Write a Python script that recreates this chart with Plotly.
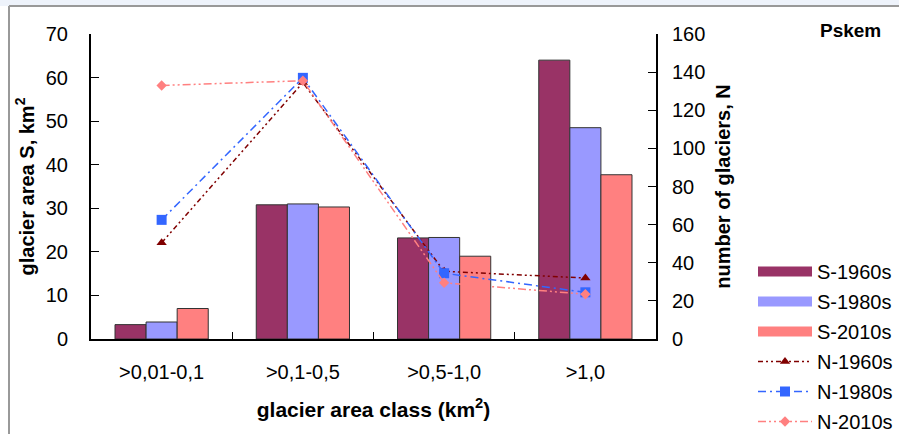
import plotly.graph_objects as go

categories = [">0,01-0,1", ">0,1-0,5", ">0,5-1,0", ">1,0"]
s_1960 = [3.3, 30.8, 23.2, 64.0]
s_1980 = [3.9, 31.0, 23.3, 48.5]
s_2010 = [7.0, 30.3, 19.0, 37.7]
n_1960 = [50.5, 134.5, 35.5, 32.0]
n_1980 = [62.5, 137.0, 34.5, 24.5]
n_2010 = [133.0, 135.5, 29.5, 23.5]
left_ticks = [0, 10, 20, 30, 40, 50, 60, 70]
right_ticks = [0, 20, 40, 60, 80, 100, 120, 140, 160]

FONT = "Liberation Sans, Arial, sans-serif"
FS = 20
fig = go.Figure()

bar_specs = [("S-1960s", s_1960, "#993366"), ("S-1980s", s_1980, "#9999FF"), ("S-2010s", s_2010, "#FF8080")]
for name, vals, col in bar_specs:
    fig.add_trace(go.Bar(x=categories, y=vals, name=name, marker=dict(color=col, line=dict(color="#333333", width=1)),
                         legendgroup=name, showlegend=False, yaxis="y"))
    # legend swatch (wide rectangle like the reference), no data drawn
    fig.add_trace(go.Scatter(x=[categories[0]], y=[None], name=name, mode="lines",
                             line=dict(color=col, width=14), legendgroup=name, yaxis="y",
                             hoverinfo="skip"))

line_specs = [
    ("N-1960s", n_1960, "#800000", "5px,3px,2px,3px,2px,3px", "triangle-up", 9),
    ("N-1980s", n_1980, "#3366FF", "8px,4px,2px,4px", "square", 10),
    ("N-2010s", n_2010, "#FF8080", "8px,3px,2px,3px,2px,3px", "diamond", 8),
]
for name, vals, col, dash, sym, sz in line_specs:
    fig.add_trace(go.Scatter(x=categories, y=vals, name=name, mode="lines+markers",
                             line=dict(color=col, width=1.5, dash=dash),
                             marker=dict(symbol=sym, size=sz, color=col),
                             legendgroup=name, yaxis="y2"))

top_y = (339 - 6) / 305
left_x = (9 - 91) / 565

fig.update_layout(
    width=899, height=434,
    margin=dict(l=91, r=243, t=34, b=95, autoexpand=False),
    paper_bgcolor="white", plot_bgcolor="white",
    font=dict(family=FONT, size=FS, color="black"),
    barmode="group", bargap=0.34, bargroupgap=0,
    showlegend=True,
    legend=dict(x=(753 - 91) / 565, y=(339 - 252) / 305, xanchor="left", yanchor="top", font=dict(size=FS),
                itemwidth=54, traceorder="grouped", tracegroupgap=1, bgcolor="rgba(0,0,0,0)"),
    xaxis=dict(showline=True, linecolor="black", linewidth=2, mirror=False,
               ticks="inside", ticklen=7, tickcolor="black", tickson="boundaries",
               ticklabelstandoff=14,
               title=dict(text="<b>glacier area class (km<sup>2</sup>)</b>", font=dict(size=21), standoff=20)),
    yaxis=dict(range=[0, 70], tickvals=left_ticks, showline=True, linecolor="black", linewidth=2,
               ticks="inside", ticklen=8, tickcolor="black", showgrid=False, zeroline=False,
               ticklabelstandoff=17,
               title=dict(text="<b>glacier area S, km<sup>2</sup></b>", font=dict(size=FS), standoff=6)),
    yaxis2=dict(range=[0, 160], tickvals=right_ticks, overlaying="y", side="right", showline=True,
                linecolor="black", linewidth=2, ticks="inside", ticklen=8, tickcolor="black",
                showgrid=False, zeroline=False, ticklabelstandoff=10,
                title=dict(text="<b>number of glaciers, N</b>", font=dict(size=FS), standoff=12)),
    annotations=[dict(text="<b>Pskem</b>", x=(850 - 91) / 565, y=(339 - 31) / 305, xref="paper", yref="paper",
                      showarrow=False, font=dict(size=19), xanchor="center", yanchor="middle")],
    shapes=[
        dict(type="rect", xref="paper", yref="paper", x0=-0.3, x1=1.6, y0=top_y, y1=1.3,
             fillcolor="#EEF3FB", line=dict(width=0), layer="above"),
        dict(type="line", xref="paper", yref="paper", x0=left_x, x1=1.6, y0=top_y, y1=top_y,
             line=dict(color="#999999", width=2), layer="above"),
        dict(type="line", xref="paper", yref="paper", x0=left_x, x1=left_x, y0=-0.5, y1=top_y,
             line=dict(color="#999999", width=2), layer="above"),
    ],
)

fig.write_html("out.html", config={"displayModeBar": False},
               post_script="document.body.style.margin='0';document.body.style.overflow='hidden';")
